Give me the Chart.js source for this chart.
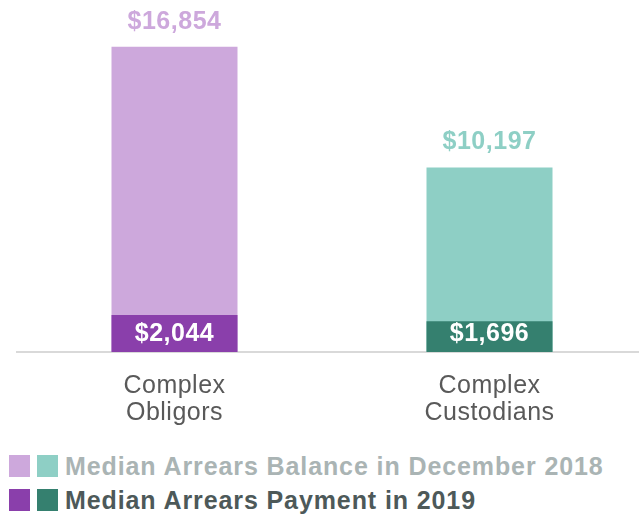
<!DOCTYPE html>
<html>
<head>
<meta charset="utf-8">
<script src="https://cdn.jsdelivr.net/npm/chart.js@4"></script>
<style>
  html, body { margin: 0; padding: 0; background: #fff; overflow: hidden; }
  #wrap { position: relative; width: 639px; height: 514px; overflow: hidden; }
  #chart { position: absolute; left: 0; top: 0; }
  .legend { position: absolute; left: 0; font-family: 'Liberation Sans', Arial, sans-serif;
            font-weight: bold; font-size: 25px; letter-spacing: 0.9px; white-space: nowrap; }
  .legend .sw { position: absolute; top: 0; width: 21px; height: 22px; }
  .legend .txt { position: absolute; left: 65px; top: -3px; line-height: 28px; }
</style>
</head>
<body>
<div id="wrap">
  <canvas id="chart" width="647" height="451"></canvas>
  <div class="legend" style="top:455px">
    <span class="sw" style="left:9px;background:#CDA8DC"></span>
    <span class="sw" style="left:37px;background:#8ECFC5"></span>
    <span class="txt" style="color:#AAB4B4">Median Arrears Balance in December 2018</span>
  </div>
  <div class="legend" style="top:489px">
    <span class="sw" style="left:9px;background:#8A3FAB"></span>
    <span class="sw" style="left:37px;background:#35806F"></span>
    <span class="txt" style="color:#4D5959">Median Arrears Payment in 2019</span>
  </div>
</div>
<script>
const categories = [['Complex', 'Obligors'], ['Complex', 'Custodians']];
const balance2018 = [16854, 10197];
const payment2019 = [2044, 1696];

const lightColors = ['#CDA8DC', '#8ECFC5'];
const darkColors = ['#8A3FAB', '#35806F'];

const fmt = v => '$' + v.toLocaleString('en-US');

// value labels: balance above the bar, payment inside near the base
const valueLabels = {
  id: 'valueLabels',
  afterDatasetsDraw(chart) {
    const ctx = chart.ctx;
    const base = chart.scales.y.getPixelForValue(0);
    ctx.save();
    ctx.letterSpacing = '0.5px';
    ctx.font = "bold 25px 'Liberation Sans', Arial, sans-serif";
    ctx.textAlign = 'center';
    ctx.textBaseline = 'alphabetic';
    chart.getDatasetMeta(1).data.forEach((bar, i) => {
      ctx.fillStyle = lightColors[i];
      ctx.fillText(fmt(balance2018[i]), bar.x, bar.y - 18);
    });
    chart.getDatasetMeta(0).data.forEach((bar, i) => {
      ctx.fillStyle = '#FFFFFF';
      ctx.fillText(fmt(payment2019[i]), bar.x, base - 11);
    });
    ctx.restore();
  },
  beforeDraw(chart) {
    chart.ctx.letterSpacing = '0.5px';
  }
};

new Chart(document.getElementById('chart'), {
  type: 'bar',
  data: {
    labels: categories,
    datasets: [
      {
        label: 'Median Arrears Payment in 2019',
        data: payment2019,
        backgroundColor: darkColors,
        grouped: false,
        barPercentage: 0.4,
        categoryPercentage: 1,
      },
      {
        label: 'Median Arrears Balance in December 2018',
        data: balance2018,
        backgroundColor: lightColors,
        grouped: false,
        barPercentage: 0.4,
        categoryPercentage: 1,
      },
    ],
  },
  options: {
    animation: false,
    responsive: false,
    layout: { padding: { left: 17, right: 0, top: 8, bottom: 4 } },
    scales: {
      x: {
        border: { display: true, color: '#D9D9D9', width: 2 },
        grid: { display: false, drawTicks: false },
        ticks: {
          color: '#595959',
          padding: 20,
          font: { family: "'Liberation Sans', Arial, sans-serif", size: 25, lineHeight: 1.1 },
        },
      },
      y: { display: false, min: 0, max: 19000 },
    },
    plugins: { legend: { display: false }, tooltip: { enabled: false } },
  },
  plugins: [valueLabels],
});
</script>
</body>
</html>
